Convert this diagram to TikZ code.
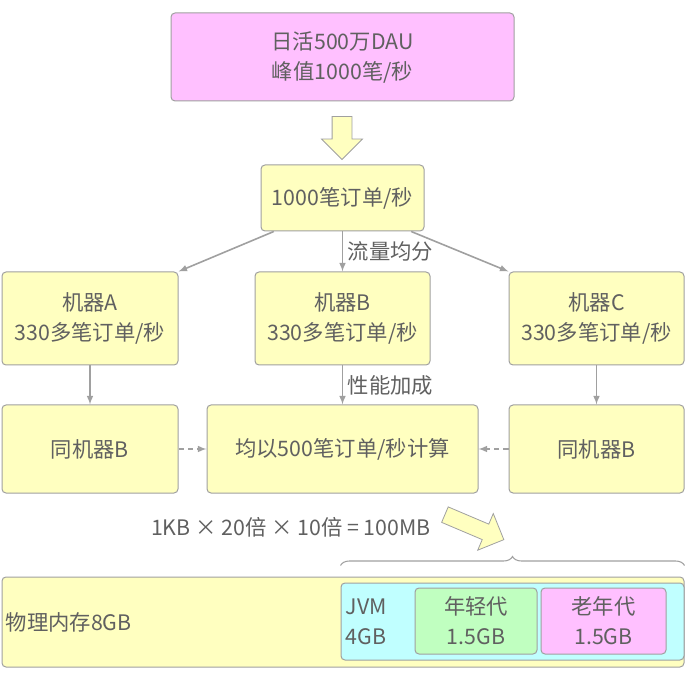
\documentclass[tikz,border=0pt]{standalone}
\usepackage{fontspec}
\setmainfont{Noto Sans CJK SC}
\usepackage{xcolor}
\usepackage{tikz}
\usetikzlibrary{shapes.arrows,arrows,calc,decorations.pathreplacing}

\newdimen\pxu \pxu=0.75pt
\definecolor{paleyellow}{HTML}{FFFFC0}
\definecolor{palepink}{HTML}{FFC0FF}
\definecolor{palecyan}{HTML}{C0FFFF}
\definecolor{palegreen}{HTML}{C0FFC0}
\definecolor{bordergray}{HTML}{A0A0A0}
\definecolor{linegray}{HTML}{A0A0A0}
\definecolor{txtgray}{HTML}{606060}

\begin{document}
\begin{tikzpicture}[
    x=0.75pt, y=-0.75pt,
    every node/.style={text=txtgray, font=\fontsize{16}{22.5}\selectfont},
    block/.style={rectangle, draw=bordergray, fill=paleyellow, line width=0.75pt, align=center, rounded corners=3pt},
    line/.style={draw=linegray, line width=1.2pt, -latex},
    dashline/.style={line, dash pattern=on 4pt off 3pt},
    fat/.style={single arrow, draw=bordergray, fill=paleyellow, line width=0.6pt, inner xsep=0pt, single arrow head indent=0pt},
    brace/.style={draw=linegray, line width=0.8pt, decorate, decoration={brace, amplitude=9\pxu}}
]
\useasboundingbox (0,0) rectangle (685,680);

% Traffic
\node [block, fill=palepink, minimum width=343\pxu, minimum height=88\pxu] (dau) at (342.5,57) {日活500万DAU\\峰值1000笔/秒};
\node [fat, rotate=-90, minimum height=43\pxu, inner ysep=9.5\pxu, single arrow head extend=10.5\pxu] (down) at (342,133) {};
\node [block, minimum width=163\pxu, minimum height=66\pxu] (order) at (342.5,198) {1000笔订单/秒};

% Machines
\node [block, minimum width=176\pxu, minimum height=93\pxu] (mA) at (90,318.5) {机器A\\330多笔订单/秒};
\node [block, minimum width=175\pxu, minimum height=93\pxu] (mB) at (342.5,318.5) {机器B\\330多笔订单/秒};
\node [block, minimum width=175\pxu, minimum height=93\pxu] (mC) at (596.5,318.5) {机器C\\330多笔订单/秒};

% Per machine load
\node [block, minimum width=176\pxu, minimum height=88\pxu] (sameA) at (90,449) {同机器B};
\node [block, minimum width=271\pxu, minimum height=88\pxu] (calc) at (342.5,449) {均以500笔订单/秒计算};
\node [block, minimum width=175\pxu, minimum height=88\pxu] (sameC) at (596.5,449) {同机器B};

% Memory
\node (formula) at (291,527) {1KB × 20倍 × 10倍 = 100MB};
\node [fat, rotate=-23, minimum height=64\pxu, inner ysep=8\pxu, single arrow head extend=11.5\pxu] (hint) at (470.5,525.5) {};
\node [block, minimum width=682\pxu, minimum height=90\pxu] (mem) at (343,622) {};
\node [anchor=west, inner sep=0pt] (memtxt) at ([xshift=4\pxu]mem.west) {物理内存8GB};
\node [block, fill=palecyan, minimum width=343\pxu, minimum height=77\pxu] (jvm) at (512.5,621.5) {};
\node [anchor=west, align=left, inner sep=0pt] (jvmtxt) at ([xshift=5\pxu]jvm.west) {JVM\\4GB};
\node [block, fill=palegreen, minimum width=122\pxu, minimum height=66\pxu] (young) at (476,621) {年轻代\\1.5GB};
\node [block, fill=palepink, minimum width=125\pxu, minimum height=66\pxu] (old) at (603.5,621) {老年代\\1.5GB};

% Connections
\path [line] (order.206) -- (mA.north east);
\path [line] (order) -- node [right] {流量均分} (mB);
\path [line] (order.-26) -- (mC.north west);
\path [line] (mA) -- (sameA);
\path [line] (mB) -- node [right] {性能加成} (calc);
\path [line] (mC) -- (sameC);
\path [dashline] (sameA) -- (calc);
\path [dashline] (sameC) -- (calc);
\draw [brace] ([yshift=17\pxu]jvm.north west) -- ([yshift=17\pxu]jvm.north east);
\end{tikzpicture}
\end{document}
